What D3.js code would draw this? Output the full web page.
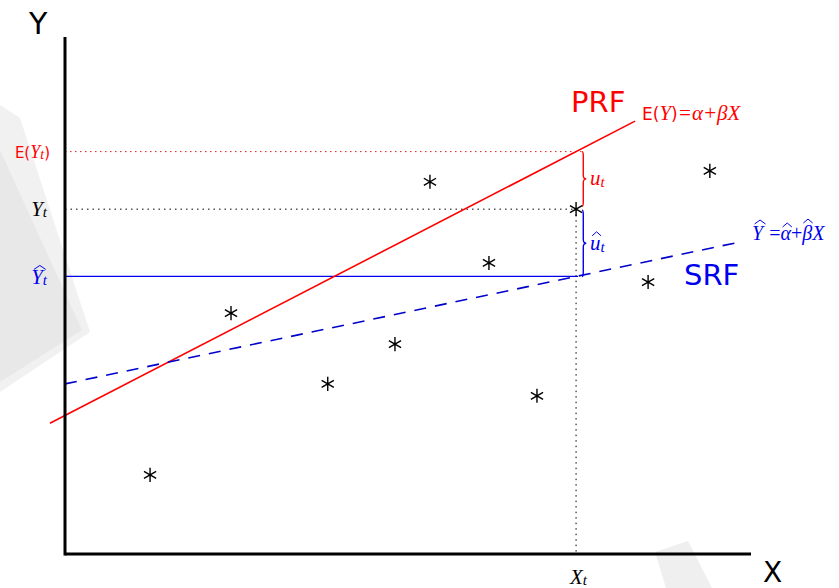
<!DOCTYPE html>
<html>
<head>
<meta charset="utf-8">
<script src="https://cdn.jsdelivr.net/npm/d3@7"></script>
<style>
body { margin:0; background:#fff; }
.serif { font-family: "Liberation Serif", serif; font-style: italic; }
.sans { font-family: "DejaVu Sans", sans-serif; }
</style>
</head>
<body>
<div id="chart"></div>
<script>

// scatter points (x, y) in chart units
var pointsX = [1.24, 2.42, 3.83, 4.81, 5.32, 6.18, 6.88, 7.45, 8.50, 9.40]
var pointsY = [1.53, 4.66, 3.29, 4.06, 7.20, 5.63, 3.06, 6.67, 5.26, 7.41]

// population regression function E(Y) = a + bX
var prf = {a: 2.68, b: 0.685, from: -0.22, to: 8.31}
// sample regression function Yhat = ahat + bhat X
var srf = {a: 3.29, b: 0.279, from: 0, to: 9.82}

var Xt = 7.45

var W = 839, H = 588
var svg = d3.select("#chart").append("svg").attr("width",W).attr("height",H)

// faint background shapes
svg.append("polygon").attr("points","0,105 20,118 90,332 0,392").attr("fill","#f1f1f1")
svg.append("polygon").attr("points","0,150 82,330 0,382").attr("fill","#e8e8e8")
svg.append("polygon").attr("points","655,552 688,541 712,588 666,588").attr("fill","#efefef")

var x = d3.scaleLinear().domain([0,10]).range([65,751])
var y = d3.scaleLinear().domain([0,10]).range([554,37])

function prfY(v){ return prf.a + prf.b*v }
function srfY(v){ return srf.a + srf.b*v }

var px = x(Xt)
var yE = y(prfY(Xt))
var yHat = y(srfY(Xt))
var yT = y(pointsY[7])

// guide lines
svg.append("line").attr("x1",x(0)).attr("x2",px+7).attr("y1",yE).attr("y2",yE)
	.attr("stroke","#d22").attr("stroke-width",1).attr("stroke-dasharray","1.5,3.5")
svg.append("line").attr("x1",x(0)).attr("x2",px).attr("y1",yT).attr("y2",yT)
	.attr("stroke","#000").attr("stroke-width",1).attr("stroke-dasharray","1.5,4")
svg.append("line").attr("x1",x(0)).attr("x2",px+2).attr("y1",yHat).attr("y2",yHat)
	.attr("stroke","#0000ee").attr("stroke-width",1.3)
svg.append("line").attr("x1",px).attr("x2",px).attr("y1",yT).attr("y2",y(0))
	.attr("stroke","#000").attr("stroke-width",1).attr("stroke-dasharray","1.5,4")

// regression lines
svg.append("line").attr("x1",x(prf.from)).attr("y1",y(prfY(prf.from))).attr("x2",x(prf.to)).attr("y2",y(prfY(prf.to)))
	.attr("stroke","#f00").attr("stroke-width",1.6)
svg.append("line").attr("x1",x(srf.from)).attr("y1",y(srfY(srf.from))).attr("x2",x(srf.to)).attr("y2",y(srfY(srf.to)))
	.attr("stroke","#0000cc").attr("stroke-width",1.6).attr("stroke-dasharray","12,9")

// braces
function brace(bx, y0, y1){
	var ym = (y0+y1)/2, r = 4, w = 1.2
	return "M"+bx+","+y0+" Q"+(bx+w)+","+y0+" "+(bx+w)+","+(y0+r)+
		" L"+(bx+w)+","+(ym-r)+" Q"+(bx+w)+","+ym+" "+(bx+w+3)+","+ym+
		" Q"+(bx+w)+","+ym+" "+(bx+w)+","+(ym+r)+
		" L"+(bx+w)+","+(y1-r)+" Q"+(bx+w)+","+y1+" "+bx+","+y1
}
svg.append("path").attr("d",brace(px+6,yE,yT-3)).attr("fill","none").attr("stroke","#f00").attr("stroke-width",1.4)
svg.append("path").attr("d",brace(px+6,yT+1,yHat)).attr("fill","none").attr("stroke","#0000ee").attr("stroke-width",1.4)

// axes
svg.append("line").attr("x1",x(0)).attr("x2",x(0)).attr("y1",y(0)+1.5).attr("y2",y(10)).attr("stroke","#000").attr("stroke-width",3)
svg.append("line").attr("x1",x(0)).attr("x2",x(10)).attr("y1",y(0)).attr("y2",y(0)).attr("stroke","#000").attr("stroke-width",3)

// points
var star = d3.symbol().type(d3.symbolAsterisk).size(140)
svg.append("g").selectAll("path").data(pointsX).enter().append("path")
	.attr("transform",function(d,i){ return "translate("+x(d)+","+y(pointsY[i])+")" })
	.attr("d",star).attr("fill","none").attr("stroke","#000").attr("stroke-width",1.4)

// hat over a tspan, drawn as a small caret path
function hat(tspan, color, lift){
	var b = tspan.node().getBBox()
	var cx = b.x + b.width/2 + b.width*0.12, top = b.y + lift
	var hw = Math.max(b.width*0.42, 4)
	svg.append("path").attr("d","M"+(cx-hw)+","+(top+4)+" L"+cx+","+top+" L"+(cx+hw)+","+(top+4))
		.attr("fill","none").attr("stroke",color).attr("stroke-width",1)
}

// labels
svg.append("text").attr("class","sans").attr("x",29).attr("y",34).attr("font-size",30).text("Y")
svg.append("text").attr("class","sans").attr("x",763).attr("y",582).attr("font-size",28).text("X")

var t = svg.append("text").attr("x",570).attr("y",584).attr("font-size",21).attr("class","serif")
t.append("tspan").text("X")
t.append("tspan").attr("font-size",15).attr("dy",1).text("t")

// left side labels
t = svg.append("text").attr("x",50).attr("y",yE+6).attr("text-anchor","end").attr("fill","#f00").attr("font-size",18)
t.append("tspan").attr("class","sans").attr("font-size",15).text("E(")
t.append("tspan").attr("class","serif").text("Y")
t.append("tspan").attr("class","serif").attr("font-size",14).attr("dy",1).text("t")
t.append("tspan").attr("class","sans").attr("font-size",15).attr("dy",-1).text(")")

t = svg.append("text").attr("x",47).attr("y",yT+7).attr("text-anchor","end").attr("font-size",21).attr("class","serif")
t.append("tspan").text("Y")
t.append("tspan").attr("font-size",15).attr("dy",1).text("t")

t = svg.append("text").attr("x",47).attr("y",yHat+8).attr("text-anchor","end").attr("fill","#0000ee").attr("font-size",21).attr("class","serif")
var yh = t.append("tspan").text("Y")
t.append("tspan").attr("font-size",15).attr("dy",1).text("t")
hat(yh, "#0000ee", 0)

// residual labels
t = svg.append("text").attr("x",px+14).attr("y",(yE+yT)/2+5).attr("fill","#f00").attr("font-size",21).attr("class","serif")
t.append("tspan").text("u")
t.append("tspan").attr("font-size",15).attr("dy",2).text("t")

t = svg.append("text").attr("x",px+14).attr("y",(yT+yHat)/2+7).attr("fill","#0000ee").attr("font-size",21).attr("class","serif")
var uh = t.append("tspan").text("u")
t.append("tspan").attr("font-size",15).attr("dy",2).text("t")
hat(uh, "#0000ee", 1)

// PRF / SRF
svg.append("text").attr("class","sans").attr("x",571).attr("y",112).attr("font-size",29).attr("fill","#f00").text("PRF")
t = svg.append("text").attr("x",642).attr("y",120).attr("fill","#f00").attr("font-size",21)
t.append("tspan").attr("class","sans").attr("font-size",17).text("E(")
t.append("tspan").attr("class","serif").text("Y")
t.append("tspan").attr("class","sans").attr("font-size",17).text(")")
t.append("tspan").attr("class","serif").attr("font-style","normal").text("=")
t.append("tspan").attr("class","serif").text("\u03b1")
t.append("tspan").attr("class","serif").attr("font-style","normal").text("+")
t.append("tspan").attr("class","serif").text("\u03b2X")

svg.append("text").attr("class","sans").attr("x",684).attr("y",285).attr("font-size",29).attr("fill","#0000ee").text("SRF")
t = svg.append("text").attr("x",752).attr("y",240).attr("fill","#0000ee").attr("font-size",20).attr("class","serif")
var Yh = t.append("tspan").text("Y")
t.append("tspan").attr("font-style","normal").attr("dx",6).text("=")
var ah = t.append("tspan").text("\u03b1")
t.append("tspan").attr("font-style","normal").text("+")
var bh = t.append("tspan").text("\u03b2")
t.append("tspan").text("X")
hat(Yh, "#0000ee", -2)
hat(ah, "#0000ee", 1)
hat(bh, "#0000ee", -3)

</script>
</body>
</html>
